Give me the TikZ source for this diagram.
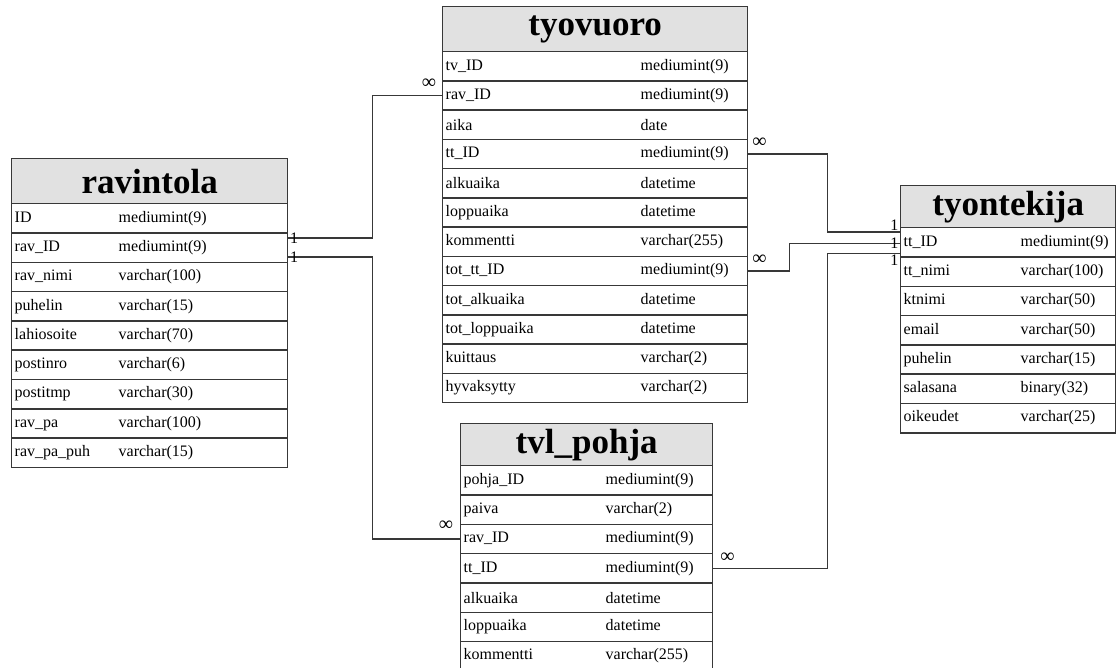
\documentclass[tikz,border=0pt]{standalone}
\usepackage{fontspec}
\setmainfont{Liberation Serif}
\usepackage{tikz}

\definecolor{headgray}{HTML}{E1E1E1}
\definecolor{tblborder}{HTML}{383838}

\tikzset{
  tblhead/.style={draw=tblborder, fill=headgray, line width=1.4pt, anchor=north west,
    inner sep=0pt, font=\fontsize{35}{38}\selectfont\bfseries},
  tblrow/.style={draw=tblborder, fill=white, line width=1.4pt, anchor=north west,
    minimum height=29.3, inner xsep=3pt, inner ysep=0pt, align=left,
    font=\fontsize{16}{18}\selectfont},
  relline/.style={draw=tblborder, line width=1.4pt},
  card/.style={font=\fontsize{16}{18}\selectfont, inner sep=1pt},
  inf/.style={font=\fontsize{20}{22}\selectfont, inner sep=0pt}
}

\begin{document}
\begin{tikzpicture}[x=1pt, y=-1pt]
\clip (0,0) rectangle (1117,668);
\fill [white] (0,0) rectangle (1117,668);

% ravintola
\node [tblhead, minimum width=276, minimum height=45] (rav) at (11,158) {ravintola};
\foreach \f/\t [count=\i] in {ID/mediumint(9), rav\_ID/mediumint(9), rav\_nimi/varchar(100),
    puhelin/varchar(15), lahiosoite/varchar(70), postinro/varchar(6), postitmp/varchar(30),
    rav\_pa/varchar(100), rav\_pa\_puh/varchar(15)}
  \node [tblrow, text width=270] (rav-\i) at (11,{203+(\i-1)*29.3}) {\makebox[104pt][l]{\f}\t};

% tyovuoro
\node [tblhead, minimum width=305, minimum height=45] (tv) at (442,6) {tyovuoro};
\foreach \f/\t [count=\i] in {tv\_ID/mediumint(9), rav\_ID/mediumint(9), aika/date,
    tt\_ID/mediumint(9), alkuaika/datetime, loppuaika/datetime, kommentti/varchar(255),
    tot\_tt\_ID/mediumint(9), tot\_alkuaika/datetime, tot\_loppuaika/datetime,
    kuittaus/varchar(2), hyvaksytty/varchar(2)}
  \node [tblrow, text width=299] (tv-\i) at (442,{51+(\i-1)*29.25}) {\makebox[195pt][l]{\f}\t};

% tyontekija
\node [tblhead, minimum width=215, minimum height=42] (tt) at (900,185) {tyontekija};
\foreach \f/\t [count=\i] in {tt\_ID/mediumint(9), tt\_nimi/varchar(100), ktnimi/varchar(50),
    email/varchar(50), puhelin/varchar(15), salasana/binary(32), oikeudet/varchar(25)}
  \node [tblrow, text width=209] (tt-\i) at (900,{227+(\i-1)*29.3}) {\makebox[117pt][l]{\f}\t};

% tvl_pohja
\node [tblhead, minimum width=252, minimum height=42] (pohja) at (460,423) {tvl\_pohja};
\foreach \f/\t [count=\i] in {pohja\_ID/mediumint(9), paiva/varchar(2), rav\_ID/mediumint(9),
    tt\_ID/mediumint(9), alkuaika/datetime, loppuaika/datetime, kommentti/varchar(255)}
  \node [tblrow, text width=246] (pohja-\i) at (460,{465+(\i-1)*29.3}) {\makebox[142pt][l]{\f}\t};

% relations
\draw [relline] ([yshift=9.5]rav-2.east) node [card, right] {1} -- ++(84,0)
  |- (tv-2.west) node [inf, xshift=-13, yshift=12] {∞};
\draw [relline] ([yshift=-9.5]rav-2.east) node [card, right] {1} -- ++(84,0)
  |- (pohja-3.west) node [inf, xshift=-14, yshift=13] {∞};
\draw [relline] (tv-4.east) node [inf, xshift=11, yshift=11] {∞} -- ++(79,0)
  |- ([yshift=10.5]tt-1.west) node [card, above left] {1};
\draw [relline] (tv-8.east) node [inf, xshift=11, yshift=11] {∞} -- ++(41,0)
  |- ([yshift=-1]tt-1.west) node [card, left] {1};
\draw [relline] (pohja-4.east) node [inf, xshift=14, yshift=11] {∞} -- ++(114,0)
  |- ([yshift=-11]tt-1.west) node [card, below left] {1};
\end{tikzpicture}
\end{document}
